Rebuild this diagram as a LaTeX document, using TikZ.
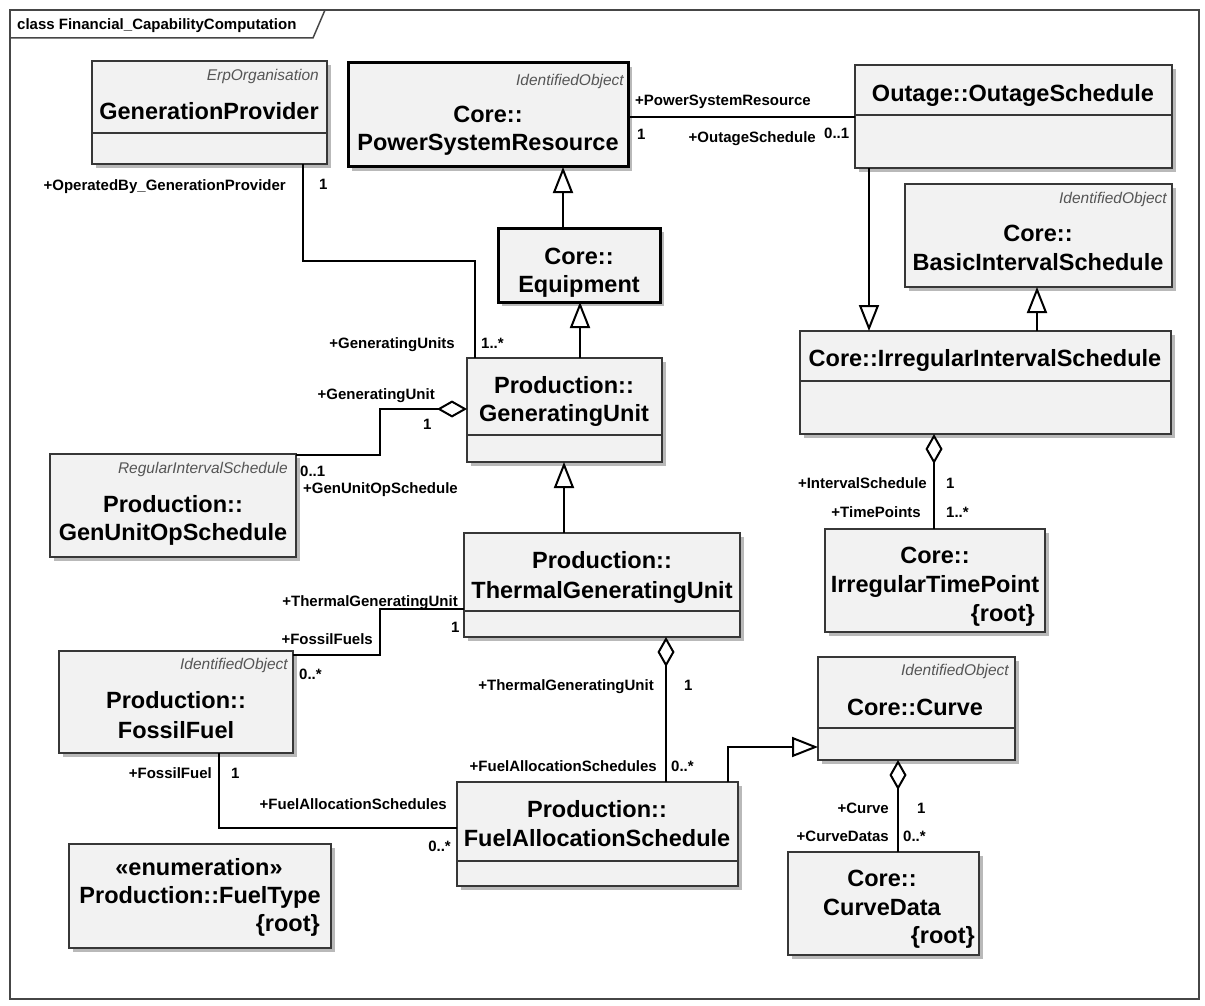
\documentclass[tikz,border=0pt]{standalone}
\usepackage{fontspec}
\setmainfont{Liberation Sans}
\usetikzlibrary{arrows.meta}
\definecolor{boxfill}{RGB}{242,242,242}
\definecolor{boxline}{RGB}{55,55,55}
\definecolor{shadowc}{RGB}{185,185,185}
\definecolor{stereoc}{RGB}{85,85,85}
\definecolor{framec}{RGB}{70,70,70}
\newcommand\ClsBox[6][]{%
  \fill[shadowc] (#3+4,#4+4) rectangle ++(#5,#6);
  \node[box,#1,minimum width=#5pt,minimum height=#6pt,anchor=north west] (#2) at (#3,#4) {};}
\newcommand\Divider[3]{\draw[boxline,line width=1.5pt] (#1,#3) -- (#2,#3);}
\begin{document}
\begin{tikzpicture}[x=1pt,y=-1pt,
  box/.style={draw=boxline,fill=boxfill,line width=1.5pt,rectangle,inner sep=0pt,outer sep=0pt},
  thickbox/.style={draw=black,line width=3pt},
  nm/.style={font=\fontsize{23.5}{28}\selectfont\bfseries,inner sep=0pt,text height=17pt,text depth=0pt},
  st/.style={font=\fontsize{15.5}{18}\selectfont\itshape,text=stereoc,inner sep=0pt,anchor=east,text height=11pt,text depth=0pt},
  lbl/.style={font=\fontsize{15}{18}\selectfont\bfseries,inner sep=0pt,text height=11pt,text depth=0pt},
  conn/.style={line width=2.5pt,draw=black,line join=miter},
  gen/.style={conn,-{Triangle[length=26pt,width=20pt,fill=white,line width=2pt]}},
  agg/.style={conn,{Diamond[length=30pt,width=17pt,fill=white,line width=2pt]}-},
]
\useasboundingbox (0,0) rectangle (1205,1006);
% frame
\draw[framec,line width=1.5pt] (10,10) rectangle (1199,999);
\draw[framec,line width=1.5pt] (10,38) -- (313,38) -- (325,10);
\node[lbl,anchor=west] (title) at (17,24) {class Financial\_CapabilityComputation};

% boxes
\ClsBox{gp}{92}{61}{235}{103}
\Divider{92}{327}{133}
\ClsBox[thickbox]{psr}{348}{63}{280}{104}
\ClsBox{os}{855}{65}{317}{103}
\Divider{855}{1172}{115}
\ClsBox[thickbox]{eq}{498}{228}{162}{74}
\ClsBox{bis}{905}{184}{267}{103}
\ClsBox{iis}{800}{331}{371}{103}
\Divider{800}{1171}{381}
\ClsBox{itp}{825}{529}{220}{103}
\ClsBox{gu}{467}{358}{195}{104}
\Divider{467}{662}{435}
\ClsBox{guos}{50}{454}{246}{103}
\ClsBox{tgu}{464}{533}{276}{104}
\Divider{464}{740}{611}
\ClsBox{ff}{59}{651}{234}{102}
\ClsBox{fas}{457}{782}{281}{104}
\Divider{457}{738}{861}
\ClsBox{ft}{69}{844}{262}{104}
\ClsBox{cv}{818}{657}{197}{103}
\Divider{818}{1015}{728}
\ClsBox{cd}{788}{852}{191}{103}

% box texts
\node[st] (gp-s) at (319,75) {ErpOrganisation};
\node[nm] (gp-n) at (209,111) {GenerationProvider};
\node[st] (psr-s) at (624,80) {IdentifiedObject};
\node[nm] (psr-n1) at (488,114) {Core::};
\node[nm] (psr-n2) at (488,142) {PowerSystemResource};
\node[nm] (os-n) at (1013,93) {Outage::OutageSchedule};
\node[nm] (eq-n1) at (579,256) {Core::};
\node[nm] (eq-n2) at (579,284) {Equipment};
\node[st] (bis-s) at (1167,198) {IdentifiedObject};
\node[nm] (bis-n1) at (1038,233) {Core::};
\node[nm] (bis-n2) at (1038,262) {BasicIntervalSchedule};
\node[nm] (iis-n) at (985,358) {Core::IrregularIntervalSchedule};
\node[nm] (itp-n1) at (935,555) {Core::};
\node[nm] (itp-n2) at (935,584) {IrregularTimePoint};
\node[nm,anchor=east] (itp-r) at (1035,613) {\{root\}};
\node[nm] (gu-n1) at (564,385) {Production::};
\node[nm] (gu-n2) at (564,413) {GeneratingUnit};
\node[st] (guos-s) at (288,468) {RegularIntervalSchedule};
\node[nm] (guos-n1) at (173,504) {Production::};
\node[nm] (guos-n2) at (173,532) {GenUnitOpSchedule};
\node[nm] (tgu-n1) at (602,560) {Production::};
\node[nm] (tgu-n2) at (602,590) {ThermalGeneratingUnit};
\node[st] (ff-s) at (288,664) {IdentifiedObject};
\node[nm] (ff-n1) at (176,700) {Production::};
\node[nm] (ff-n2) at (176,730) {FossilFuel};
\node[nm] (fas-n1) at (597,809) {Production::};
\node[nm] (fas-n2) at (597,838) {FuelAllocationSchedule};
\node[nm] (ft-n1) at (199,867) {«enumeration»};
\node[nm] (ft-n2) at (200,895) {Production::FuelType};
\node[nm,anchor=east] (ft-r) at (320,923) {\{root\}};
\node[st] (cv-s) at (1009,670) {IdentifiedObject};
\node[nm] (cv-n) at (915,707) {Core::Curve};
\node[nm] (cd-n1) at (882,878) {Core::};
\node[nm] (cd-n2) at (882,907) {CurveData};
\node[nm,anchor=east] (cd-r) at (975,935) {\{root\}};

% connector points
\coordinate (c1) at ([xshift=65pt]eq.north west);
\coordinate (c2) at ([xshift=113pt]gu.north west);
\coordinate (c3) at ([xshift=14pt]os.south west);
\coordinate (c4) at ([xshift=237pt]iis.north west);
\coordinate (c5) at ([xshift=100pt]tgu.north west);
\coordinate (c6) at ([xshift=271pt]fas.north west);
\coordinate (c6b) at ([yshift=-90pt]cv.north west);
\coordinate (d1) at ([yshift=-51pt]gu.north west);
\coordinate (d1e) at ([yshift=-1pt]guos.north east);
\coordinate (d2) at ([xshift=202pt]tgu.south west);
\coordinate (d3) at ([xshift=80pt]cv.south west);
\coordinate (d4) at ([xshift=134pt]iis.south west);
\coordinate (e1) at ([yshift=-76pt]tgu.north west);
\coordinate (e1e) at ([yshift=-4pt]ff.north east);
\coordinate (e2) at ([xshift=160pt]ff.south west);
\coordinate (e2e) at ([yshift=-46pt]fas.north west);
\coordinate (a1) at ([xshift=211pt]gp.south west);
\coordinate (a1e) at ([xshift=8pt]gu.north west);
\coordinate (b1) at ([yshift=-54pt]psr.north east);
\coordinate (b1e) at ([yshift=-52pt]os.north west);

% connectors
\draw[conn] (a1) -- ++(0,97) -| (a1e);
\draw[conn,line width=1.2pt] (b1) -- (b1e);
\draw[gen] (c1) -- (c1 |- psr.south);
\draw[gen] (c2) -- (c2 |- eq.south);
\draw[gen] (c3) -- (c3 |- iis.north);
\draw[gen] (c4) -- (c4 |- bis.south);
\draw[gen] (c5) -- (c5 |- gu.south);
\draw[gen] (c6) |- (c6b);
\draw[agg] (d1) -- ++(-87,0) |- (d1e);
\draw[conn] (e1) -- ++(-84,0) |- (e1e);
\draw[agg] (d2) -- (d2 |- fas.north);
\draw[conn] (e2) |- (e2e);
\draw[agg] (d3) -- (d3 |- cd.north);
\draw[agg] (d4) -- (d4 |- itp.north);

% role labels
\node[lbl,anchor=east] (l1) at (286,185) {+OperatedBy\_GenerationProvider};
\node[lbl,anchor=west] (l2) at (319,184) {1};
\node[lbl,anchor=east] (l3) at (455,343) {+GeneratingUnits};
\node[lbl,anchor=west] (l4) at (481,343) {1..*};
\node[lbl,anchor=west] (l5) at (635,100) {+PowerSystemResource};
\node[lbl,anchor=west] (l6) at (637,134) {1};
\node[lbl,anchor=east] (l7) at (816,137) {+OutageSchedule};
\node[lbl,anchor=west] (l8) at (824,133) {0..1};
\node[lbl,anchor=east] (l9) at (435,394) {+GeneratingUnit};
\node[lbl,anchor=west] (l10) at (423,424) {1};
\node[lbl,anchor=west] (l11) at (300,471) {0..1};
\node[lbl,anchor=west] (l12) at (303,488) {+GenUnitOpSchedule};
\node[lbl,anchor=east] (l13) at (458,601) {+ThermalGeneratingUnit};
\node[lbl,anchor=west] (l14) at (451,627) {1};
\node[lbl,anchor=east] (l15) at (373,639) {+FossilFuels};
\node[lbl,anchor=west] (l16) at (299,674) {0..*};
\node[lbl,anchor=east] (l17) at (654,685) {+ThermalGeneratingUnit};
\node[lbl,anchor=west] (l18) at (684,685) {1};
\node[lbl,anchor=east] (l19) at (657,766) {+FuelAllocationSchedules};
\node[lbl,anchor=west] (l20) at (671,766) {0..*};
\node[lbl,anchor=east] (l21) at (212,773) {+FossilFuel};
\node[lbl,anchor=west] (l22) at (231,773) {1};
\node[lbl,anchor=east] (l23) at (447,804) {+FuelAllocationSchedules};
\node[lbl,anchor=east] (l24) at (451,846) {0..*};
\node[lbl,anchor=east] (l25) at (889,808) {+Curve};
\node[lbl,anchor=west] (l26) at (917,808) {1};
\node[lbl,anchor=east] (l27) at (889,836) {+CurveDatas};
\node[lbl,anchor=west] (l28) at (903,836) {0..*};
\node[lbl,anchor=east] (l29) at (927,483) {+IntervalSchedule};
\node[lbl,anchor=west] (l30) at (946,483) {1};
\node[lbl,anchor=east] (l31) at (921,512) {+TimePoints};
\node[lbl,anchor=west] (l32) at (946,512) {1..*};
\end{tikzpicture}
\end{document}
